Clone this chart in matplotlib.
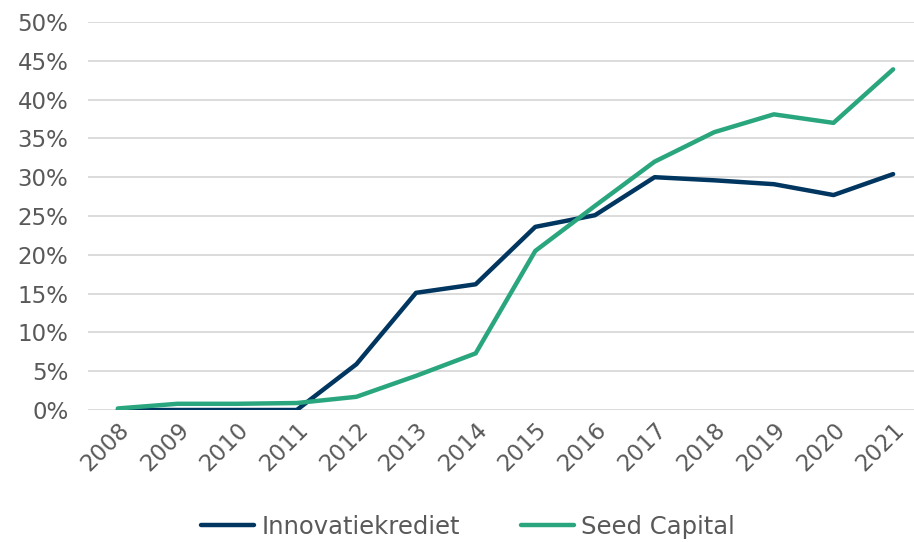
import matplotlib
matplotlib.use("Agg")
import matplotlib.pyplot as plt
from matplotlib.ticker import PercentFormatter

years = [str(y) for y in range(2008, 2022)]
innovatiekrediet = [0, 0, 0, 0, 5.9, 15.1, 16.2, 23.6, 25.1, 30.0, 29.6, 29.1, 27.7, 30.4]
seed_capital = [0.2, 0.8, 0.8, 0.9, 1.7, 4.4, 7.3, 20.5, 26.3, 32.0, 35.8, 38.1, 37.0, 43.9]

NAVY = "#00365F"
GREEN = "#2AA67E"
GREY = "#595959"
FS = 16.5

plt.rcParams["font.family"] = ["DejaVu Sans"]

fig = plt.figure(figsize=(9.14, 5.42), dpi=100)
ax = fig.add_axes([88 / 914, 132 / 542, 826 / 914, 388 / 542])

x = range(len(years))
ax.plot(x, innovatiekrediet, color=NAVY, lw=3.2, solid_capstyle="round", solid_joinstyle="round",
        label="Innovatiekrediet", zorder=3)
ax.plot(x, seed_capital, color=GREEN, lw=3.2, solid_capstyle="round", solid_joinstyle="round",
        label="Seed Capital", zorder=3)

ax.set_ylim(0, 50)
ax.set_yticks(range(0, 51, 5))
ax.yaxis.set_major_formatter(PercentFormatter(decimals=0))
ax.set_xlim(-0.5, 13.35)
ax.set_xticks(list(x))
ax.set_xticklabels(years, rotation=45, ha="right", rotation_mode="anchor")

ax.grid(axis="y", color="#D9D9D9", lw=1.3)
ax.set_axisbelow(True)
for s in ax.spines.values():
    s.set_visible(False)
ax.tick_params(length=0, colors=GREY, labelsize=FS)
ax.tick_params(axis="y", pad=14)
ax.tick_params(axis="x", pad=6)

fig.legend(loc="center", bbox_to_anchor=(0.512, 1 - 527 / 542), ncol=2, frameon=False,
           prop={"size": 17.5}, labelcolor=GREY, handlelength=2.2, handletextpad=0.3,
           columnspacing=2.5)

fig.savefig("out.png", dpi=100)
